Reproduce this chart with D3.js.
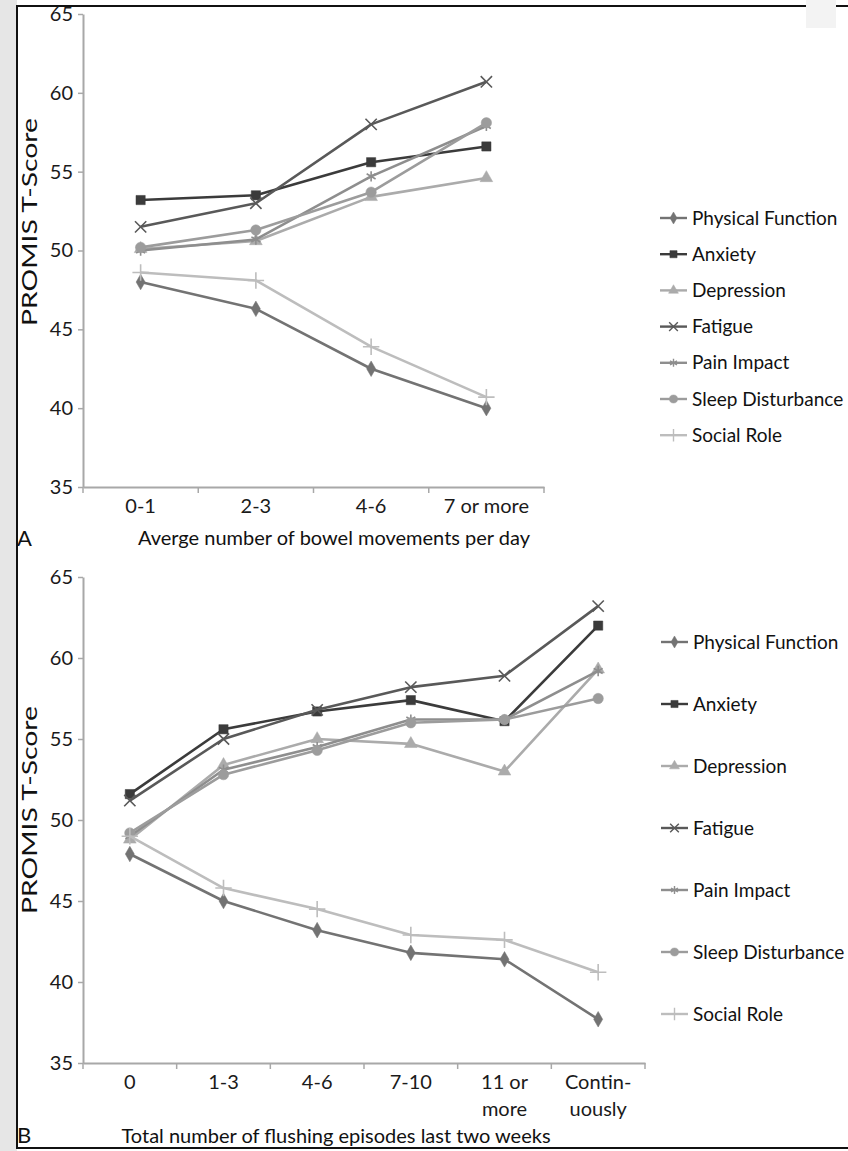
<!DOCTYPE html>
<html><head><meta charset="utf-8">
<script src="https://cdn.jsdelivr.net/npm/d3@7"></script>
<style>body{margin:0;background:#fff} svg{display:block}</style>
</head><body>
<svg id="chart" width="848" height="1151"></svg>
<script>
// ---------- data ----------
const seriesNames = ["Physical Function","Anxiety","Depression","Fatigue","Pain Impact","Sleep Disturbance","Social Role"];
const yTicks = [35,40,45,50,55,60,65];

const catsA = ["0-1","2-3","4-6","7 or more"];
const physA    = [48.0,46.3,42.5,40.0];
const anxA     = [53.2,53.5,55.6,56.6];
const depA     = [50.1,50.6,53.4,54.6];
const fatA     = [51.5,53.0,58.0,60.7];
const painA    = [50.0,50.7,54.7,57.9];
const sleepA   = [50.2,51.3,53.7,58.1];
const socialA  = [48.6,48.1,43.9,40.7];
const xTitleA = "Averge number of bowel movements per day";

const catsB = ["0","1-3","4-6","7-10","11 or\nmore","Contin-\nuously"];
const physB    = [47.9,45.0,43.2,41.8,41.4,37.7];
const anxB     = [51.6,55.6,56.7,57.4,56.1,62.0];
const depB     = [48.8,53.4,55.0,54.7,53.0,59.3];
const fatB     = [51.2,55.0,56.8,58.2,58.9,63.2];
const painB    = [49.0,53.1,54.5,56.2,56.2,59.2];
const sleepB   = [49.2,52.8,54.3,56.0,56.2,57.5];
const socialB  = [49.0,45.8,44.5,42.9,42.6,40.6];
const xTitleB = "Total number of flushing episodes last two weeks";
const yTitle = "PROMIS T-Score";

// ---------- styles ----------
const colors  = ["#737373","#3b3b3b","#ababab","#595959","#8e8e8e","#9c9c9c","#bdbdbd"];
const symbols = [d3.symbolDiamond, d3.symbolSquare, d3.symbolTriangle, d3.symbolTimes, d3.symbolAsterisk, d3.symbolCircle, d3.symbolPlus];
const symFill = [true,true,true,false,false,true,false];
const symSize = [70,85,70,85,75,85,90];
const FONT = "Lato, 'Open Sans', sans-serif";
const axisColor = "#a8a8a8";

const svg = d3.select("#chart");

// background decorations (scan look)
svg.append("rect").attr("x",0).attr("y",0).attr("width",17).attr("height",1151).attr("fill","#e6e6e6");
svg.append("rect").attr("x",17).attr("y",6).attr("width",840).attr("height",1142)
   .attr("fill","#fff").attr("stroke","#111").attr("stroke-width",2);
svg.append("rect").attr("x",806).attr("y",0).attr("width",30).attr("height",28).attr("fill","#f3f3f3");

function panel(cfg){
  const g = svg.append("g");
  const x = d3.scaleBand().domain(cfg.cats).range([cfg.x0, cfg.x1]).padding(0);
  const y = d3.scaleLinear().domain([35,65]).range([cfg.y0, cfg.y1]);
  const cx = c => x(c) + x.bandwidth()/2;

  // y axis
  const ya = g.append("g").attr("transform",`translate(${cfg.x0},0)`)
    .call(d3.axisLeft(y).tickValues(yTicks).tickSize(5).tickSizeOuter(0).tickPadding(5));
  ya.select(".domain").attr("stroke",axisColor).attr("stroke-width",2);
  ya.selectAll(".tick line").attr("stroke",axisColor).attr("stroke-width",1.5);
  ya.selectAll("text").attr("font-family",FONT).attr("font-size",20).attr("fill","#1a1a1a");

  // x axis (labels at band centres, ticks at band boundaries)
  const xa = g.append("g").attr("transform",`translate(0,${cfg.y0})`)
    .call(d3.axisBottom(x).tickSize(0).tickSizeOuter(0).tickPadding(12));
  xa.select(".domain").attr("stroke",axisColor).attr("stroke-width",2);
  xa.selectAll("text").attr("font-family",FONT).attr("font-size",20).attr("fill","#1a1a1a")
    .each(function(d){
      const t = d3.select(this); const lines = d.split("\n");
      t.text(null);
      lines.forEach((ln,i)=> t.append("tspan").attr("x",0).attr("dy", i===0 ? "0.71em" : "1.35em").text(ln));
    });
  const bounds = cfg.cats.map(c => x(c)).concat([x(cfg.cats[cfg.cats.length-1]) + x.bandwidth()]);
  g.selectAll(".btick").data(bounds).join("line").attr("class","btick")
    .attr("x1",d=>d).attr("x2",d=>d).attr("y1",cfg.y0).attr("y2",cfg.y0+6)
    .attr("stroke",axisColor).attr("stroke-width",1.5);

  // titles
  g.append("text").attr("x",cfg.xTitleX).attr("y",cfg.xTitleY).attr("text-anchor","middle")
    .attr("font-family",FONT).attr("font-size",20).attr("fill","#111").text(cfg.xTitle);
  g.append("text").attr("transform",`translate(${cfg.yTitleX},${cfg.yTitleY}) rotate(-90)`)
    .attr("text-anchor","middle").attr("font-family",FONT).attr("font-size",21).attr("fill","#111")
    .attr("textLength",cfg.yTitleLen).attr("lengthAdjust","spacingAndGlyphs").text(yTitle);
  g.append("text").attr("x",cfg.letterX).attr("y",cfg.letterY)
    .attr("font-family",FONT).attr("font-size",22).attr("fill","#111").text(cfg.letter);

  // series
  const line = d3.line().x((d,i)=>cx(cfg.cats[i])).y(d=>y(d));
  cfg.series.forEach((vals,s)=>{
    g.append("path").datum(vals).attr("d",line).attr("fill","none")
      .attr("stroke",colors[s]).attr("stroke-width",2.6).attr("stroke-linejoin","round");
    const sym = d3.symbol().type(symbols[s]).size(symSize[s]);
    g.selectAll(null).data(vals).join("path")
      .attr("transform",(d,i)=>`translate(${cx(cfg.cats[i])},${y(d)})`)
      .attr("d",sym)
      .attr("fill",symFill[s]?colors[s]:"none")
      .attr("stroke",colors[s]).attr("stroke-width",symFill[s]?0.5:1.6);
  });

  // legend
  const lg = g.append("g");
  seriesNames.forEach((n,s)=>{
    const yy = cfg.legY0 + s*cfg.legStep;
    lg.append("line").attr("x1",cfg.legX).attr("x2",cfg.legX+27).attr("y1",yy).attr("y2",yy)
      .attr("stroke",colors[s]).attr("stroke-width",2.4);
    lg.append("path").attr("transform",`translate(${cfg.legX+13.5},${yy})`)
      .attr("d",d3.symbol().type(symbols[s]).size(symSize[s]*0.6))
      .attr("fill",symFill[s]?colors[s]:"none").attr("stroke",colors[s]).attr("stroke-width",symFill[s]?0.5:1.4);
    lg.append("text").attr("x",cfg.legX+32).attr("y",yy).attr("dy","0.35em")
      .attr("font-family",FONT).attr("font-size",19).attr("fill","#111").text(n);
  });
}

panel({cats:catsA, x0:83, x1:544, y0:487, y1:14,
  series:[physA,anxA,depA,fatA,painA,sleepA,socialA],
  xTitle:xTitleA, xTitleX:334, xTitleY:545,
  yTitleX:37, yTitleY:222, yTitleLen:208,
  letter:"A", letterX:17, letterY:546,
  legX:660, legY0:218, legStep:36.2});

panel({cats:catsB, x0:83, x1:645, y0:1063, y1:577,
  series:[physB,anxB,depB,fatB,painB,sleepB,socialB],
  xTitle:xTitleB, xTitleX:336, xTitleY:1143,
  yTitleX:37, yTitleY:810, yTitleLen:208,
  letter:"B", letterX:17, letterY:1143,
  legX:661, legY0:642, legStep:62});
</script>
</body></html>
